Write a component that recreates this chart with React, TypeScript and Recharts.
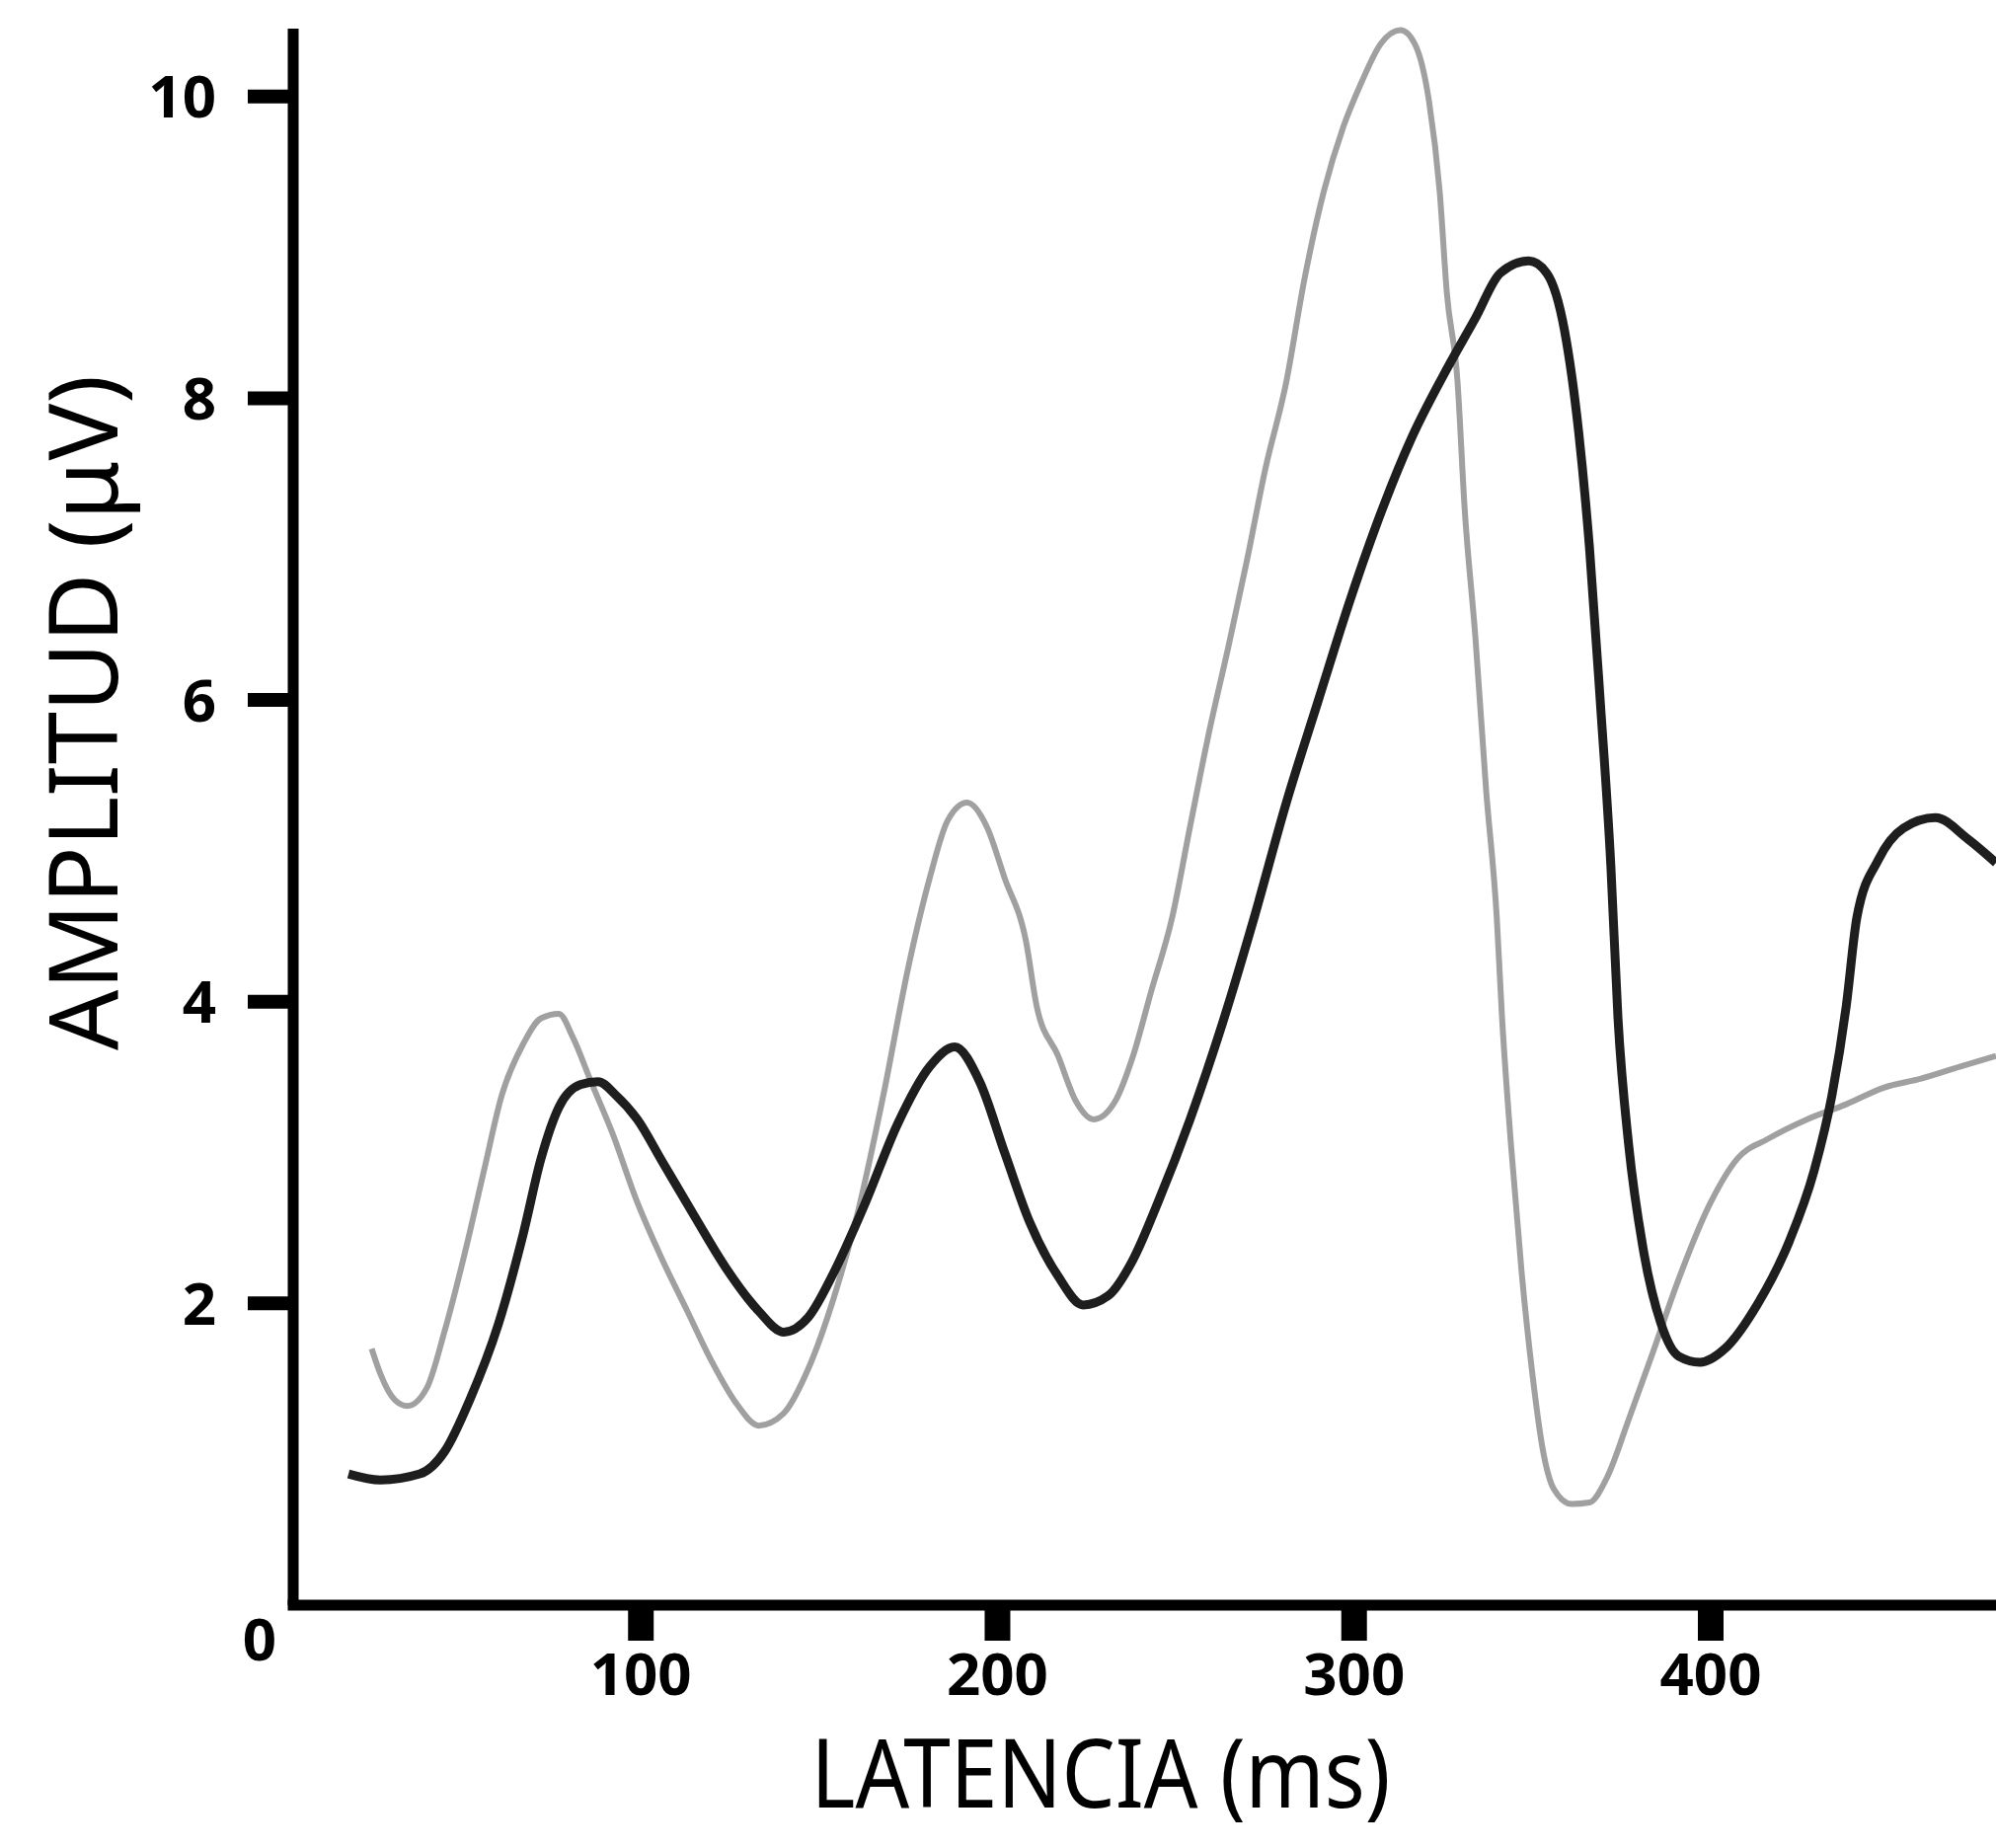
import React from "react";
import { LineChart, Line, XAxis, YAxis, Label } from "recharts";

// dark trace
const latencyDark = [18, 27, 38, 45, 52, 60, 67, 72, 77, 83, 88, 93, 99, 106, 115, 124, 133, 140, 147, 154, 163, 172, 181, 188, 195, 202, 209, 217, 224, 231, 238, 245, 254, 263, 272, 281, 290, 299, 308, 316, 325, 334, 341, 349, 354, 359, 363, 366, 369, 372, 374, 377, 381, 386, 391, 397, 404, 413, 422, 429, 434, 438, 441, 447, 454, 463, 472, 480];
const amplitudeDark = [0.87, 0.83, 0.87, 1.02, 1.36, 1.86, 2.46, 2.96, 3.3, 3.45, 3.47, 3.38, 3.22, 2.94, 2.58, 2.23, 1.95, 1.81, 1.91, 2.2, 2.67, 3.19, 3.57, 3.7, 3.47, 3.0, 2.54, 2.18, 1.99, 2.05, 2.29, 2.67, 3.22, 3.85, 4.56, 5.32, 6.0, 6.67, 7.27, 7.73, 8.15, 8.53, 8.83, 8.91, 8.83, 8.45, 7.77, 7.01, 6.0, 4.9, 3.89, 3.05, 2.37, 1.87, 1.65, 1.61, 1.7, 1.99, 2.41, 2.88, 3.38, 3.97, 4.56, 4.94, 5.15, 5.22, 5.08, 4.92];

// light (grey) trace
const latencyLight = [24.5, 27, 31, 34.5, 40, 45, 51, 56, 61, 67, 72, 77, 81, 86, 92, 99, 106, 113, 120, 127, 133, 140, 147, 154, 161, 168, 175, 181, 186, 191.5, 197, 202, 208, 211, 217, 222, 227, 233, 238, 243, 249, 254, 259, 265, 270, 275, 281, 286, 291.5, 297, 302, 307.5, 313, 317, 321, 324, 326, 329, 331, 334, 337, 340, 341.5, 344, 347, 350, 353, 356, 361, 366, 371, 377, 384, 391, 400, 407.5, 416, 427, 438, 448.5, 459, 470, 480];
const amplitudeLight = [1.7, 1.53, 1.36, 1.32, 1.44, 1.82, 2.37, 2.88, 3.38, 3.72, 3.89, 3.92, 3.76, 3.47, 3.13, 2.67, 2.29, 1.95, 1.61, 1.33, 1.19, 1.27, 1.57, 2.03, 2.62, 3.38, 4.23, 4.82, 5.2, 5.32, 5.16, 4.82, 4.4, 3.97, 3.64, 3.34, 3.22, 3.34, 3.64, 4.06, 4.56, 5.16, 5.75, 6.38, 6.93, 7.52, 8.11, 8.78, 9.37, 9.8, 10.09, 10.35, 10.44, 10.35, 9.97, 9.37, 8.7, 8.11, 7.27, 6.42, 5.41, 4.56, 3.89, 3.05, 2.2, 1.53, 1.02, 0.77, 0.67, 0.68, 0.85, 1.23, 1.69, 2.16, 2.67, 2.96, 3.09, 3.22, 3.32, 3.43, 3.49, 3.57, 3.64];

const xTicks = [100, 200, 300, 400];
const yTicks = [0, 2, 4, 6, 8, 10];

const darkData = latencyDark.map((x, i) => ({ x, y: amplitudeDark[i] }));
const lightData = latencyLight.map((x, i) => ({ x, y: amplitudeLight[i] }));

const AXIS_X = 297;
const TICK_FONT = { fontFamily: "Noto Sans", fontSize: 60, fontWeight: 700, fill: "#000" };

const YTick = (props: any) => {
  const { y, payload } = props;
  if (payload.value === 0) {
    return (
      <text x={263} y={y + 56} textAnchor="middle" {...TICK_FONT}>
        0
      </text>
    );
  }
  return (
    <g>
      <line x1={AXIS_X - 46} x2={AXIS_X} y1={y} y2={y} stroke="#000" strokeWidth={14} />
      <text x={219} y={y} dy="0.36em" textAnchor="end" {...TICK_FONT}>
        {payload.value}
      </text>
    </g>
  );
};

const App = () => {
  return (
    <div style={{ position: "absolute", left: 0, top: 0, width: 2022, height: 1872, background: "#fff" }}>
      <LineChart width={2022} height={1872} margin={{ top: 29, right: 0, bottom: 0, left: 0 }}>
        <XAxis
          type="number"
          dataKey="x"
          domain={[2.5, 480]}
          ticks={xTicks}
          height={246}
          axisLine={{ stroke: "#000", strokeWidth: 11, strokeLinecap: "square" }}
          tickLine={{ stroke: "#000", strokeWidth: 26 }}
          tickSize={36}
          tickMargin={12}
          tick={TICK_FONT}
        >
          <Label
            content={() => (
              <text
                x={1115}
                y={1831}
                textAnchor="middle"
                fontFamily="Noto Sans"
                fontSize={96}
                fill="#000"
                textLength={587}
                lengthAdjust="spacingAndGlyphs"
              >
                LATENCIA (ms)
              </text>
            )}
          />
        </XAxis>
        <YAxis
          type="number"
          dataKey="y"
          domain={[0, 10.45]}
          ticks={yTicks}
          width={AXIS_X}
          axisLine={{ stroke: "#000", strokeWidth: 11 }}
          tickLine={false}
          tick={<YTick />}
        >
          <Label
            content={() => (
              <text
                transform="translate(119, 722) rotate(-90)"
                textAnchor="middle"
                fontFamily="Noto Sans"
                fontSize={96}
                fill="#000"
                textLength={684}
                lengthAdjust="spacingAndGlyphs"
              >
                AMPLITUD (μV)
              </text>
            )}
          />
        </YAxis>
        <Line
          data={lightData}
          dataKey="y"
          type="monotone"
          stroke="#a0a0a0"
          strokeWidth={6}
          dot={false}
          isAnimationActive={false}
        />
        <Line
          data={darkData}
          dataKey="y"
          type="monotone"
          stroke="#1e1e1e"
          strokeWidth={9}
          dot={false}
          isAnimationActive={false}
        />
      </LineChart>
    </div>
  );
};

export default App;
